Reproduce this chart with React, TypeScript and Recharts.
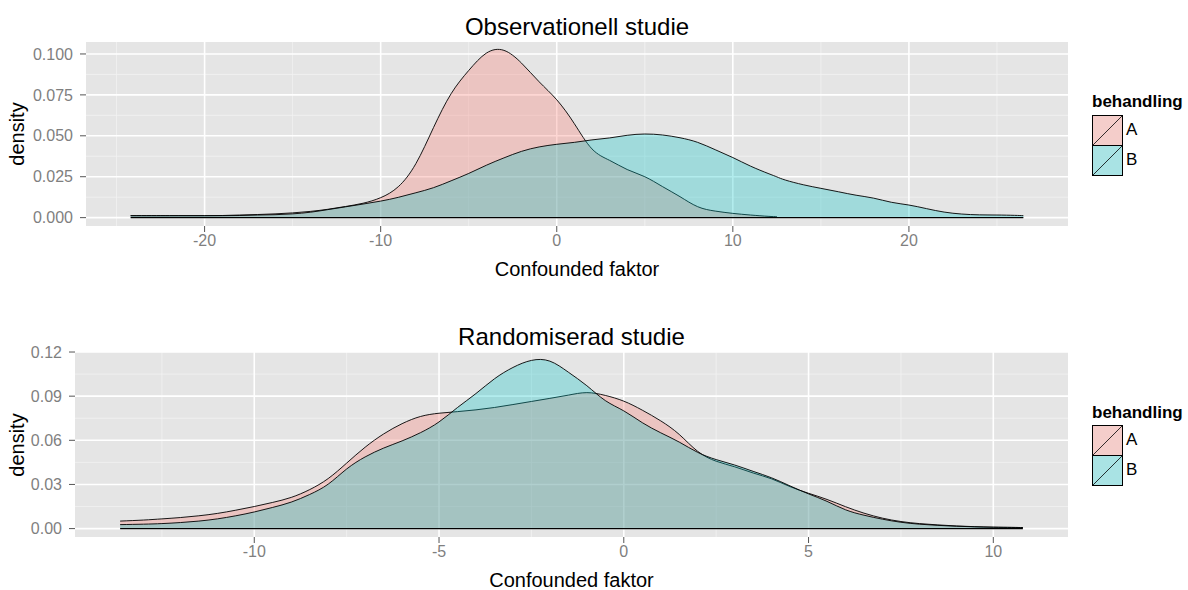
import { ComposedChart, Area, XAxis, YAxis, CartesianGrid, ReferenceLine } from "recharts"

const FONT = '"Liberation Sans", Arial, sans-serif'
const W = 1188
const PANEL_H = 295
const RIGHT = 120

const groups = ["A", "B"]
const fills = ["#F8766D", "#00BFC4"]

// Observationell studie
const obsX = [
  -24.2, -23, -22, -21, -20, -19, -18, -17, -16, -15, -14, -13, -12, -11, -10, -9, -8, -7, -6, -5, -4, -3, -2, -1,
  0, 1, 2, 3, 4, 5, 6, 7, 8, 9, 10, 11, 12, 12.5, 13, 14, 15, 16, 17, 18, 19, 20, 21, 22, 23, 24, 25, 26, 26.5,
]
const obsA = [
  0.0012, 0.0012, 0.0012, 0.0012, 0.0012, 0.0013, 0.0016, 0.0019, 0.0023, 0.0029, 0.0038, 0.0051, 0.0068, 0.0088,
  0.0122, 0.0189, 0.033, 0.055, 0.0757, 0.0899, 0.1005, 0.1022, 0.0944, 0.083, 0.072, 0.0574, 0.042, 0.035, 0.0294,
  0.025, 0.019, 0.0128, 0.0067, 0.004, 0.0026, 0.0016, 0.0008, 0.0006,
  null, null, null, null, null, null, null, null, null, null, null, null, null, null, null,
]
const obsB = [
  0.0012, 0.0012, 0.0012, 0.0012, 0.0012, 0.0012, 0.0013, 0.0016, 0.0018, 0.0023, 0.0033, 0.0049, 0.0066, 0.0083,
  0.0101, 0.0124, 0.0152, 0.0183, 0.0225, 0.027, 0.032, 0.0365, 0.0405, 0.0432, 0.0448, 0.046, 0.0475, 0.0487,
  0.0503, 0.0511, 0.0505, 0.0488, 0.046, 0.0415, 0.0367, 0.0315, 0.027, 0.0249, 0.0229, 0.0201, 0.0179, 0.0158,
  0.0137, 0.0119, 0.0094, 0.0077, 0.0055, 0.0034, 0.0022, 0.0017, 0.0016, 0.0014, 0.0012,
]
const obsXTicks = [-20, -10, 0, 10, 20]
const obsXMinor = [-25, -15, -5, 5, 15, 25]
const obsYTicks = [0, 0.025, 0.05, 0.075, 0.1]
const obsYMinor = [0.0125, 0.0375, 0.0625, 0.0875]

// Randomiserad studie
const randX = [
  -13.63, -13, -12.5, -12, -11.5, -11, -10.5, -10, -9.5, -9, -8.5, -8, -7.5, -7, -6.5, -6, -5.5, -5, -4.5, -4, -3.5,
  -3, -2.5, -2, -1.5, -1, -0.5, 0, 0.5, 1, 1.5, 2, 2.5, 3, 3.5, 4, 4.5, 5, 5.5, 6, 6.5, 7, 7.5, 8, 8.5, 9, 9.5, 10,
  10.5, 10.8,
]
const randA = [
  0.0051, 0.0058, 0.0066, 0.0075, 0.0087, 0.0103, 0.0125, 0.015, 0.0178, 0.0212, 0.0265, 0.034, 0.0445, 0.0553, 0.0643,
  0.0713, 0.0762, 0.0784, 0.0795, 0.0807, 0.0823, 0.0843, 0.0864, 0.0885, 0.0907, 0.0924, 0.0905, 0.0866, 0.0805,
  0.0732, 0.064, 0.0525, 0.0458, 0.042, 0.0378, 0.0338, 0.0285, 0.024, 0.0198, 0.0149, 0.0105, 0.0071, 0.0048,
  0.0034, 0.0025, 0.0018, 0.0013, 0.001, 0.0008, 0.0007,
]
const randB = [
  0.0027, 0.003, 0.0034, 0.0041, 0.0051, 0.0066, 0.0087, 0.0113, 0.0144, 0.018, 0.0232, 0.0302, 0.0405, 0.0487,
  0.0547, 0.0596, 0.0652, 0.0725, 0.0823, 0.0918, 0.1018, 0.1095, 0.1143, 0.1138, 0.1063, 0.0971, 0.087, 0.08, 0.072,
  0.0651, 0.0588, 0.0518, 0.0469, 0.0432, 0.0389, 0.0345, 0.029, 0.0236, 0.0185, 0.0128, 0.0091, 0.0064, 0.0043,
  0.003, 0.0022, 0.0016, 0.0012, 0.0009, 0.0008, 0.0007,
]
const randXTicks = [-10, -5, 0, 5, 10]
const randXMinor = [-12.5, -7.5, -2.5, 2.5, 7.5]
const randYTicks = [0, 0.03, 0.06, 0.09, 0.12]
const randYMinor = [0.015, 0.045, 0.075, 0.105]

const expand = (lo: number, hi: number): [number, number] => {
  const d = (hi - lo) * 0.05
  return [lo - d, hi + d]
}

type PanelProps = {
  title: string
  xs: number[]
  a: (number | null)[]
  b: number[]
  xTicks: number[]
  xMinor: number[]
  yTicks: number[]
  yMinor: number[]
  digits: number
  yAxisWidth: number
  marginTop: number
  xAxisHeight: number
}

function Panel({ title, xs, a, b, xTicks, xMinor, yTicks, yMinor, digits, yAxisWidth, marginTop, xAxisHeight }: PanelProps) {
  const data = xs.map((x, i) => ({ x, A: a[i], B: b[i] }))
  const xDomain = expand(xs[0], xs[xs.length - 1])
  const yMax = Math.max(...(a.filter((v) => v != null) as number[]), ...b)
  const yDomain = expand(0, yMax)
  const plotBottom = PANEL_H - xAxisHeight
  const plotMid = (marginTop + plotBottom) / 2
  const cx = (yAxisWidth + W - RIGHT) / 2
  const legendTitleY = plotMid - 32
  const keysTop = legendTitleY + 12.6

  const tickStyle = { fill: "#7F7F7F", fontSize: 16, fontFamily: FONT }

  return (
    <div style={{ position: "relative", width: W, height: PANEL_H }}>
      <ComposedChart width={W} height={PANEL_H} data={data} margin={{ top: marginTop, right: RIGHT, bottom: 0, left: 0 }}>
        <CartesianGrid fill="#E5E5E5" fillOpacity={1} stroke="#F2F2F2" strokeWidth={0.8} horizontalValues={yMinor} verticalValues={xMinor} />
        <CartesianGrid stroke="#FFFFFF" strokeWidth={1.6} horizontalValues={yTicks} verticalValues={xTicks} />
        <XAxis
          type="number"
          dataKey="x"
          domain={xDomain}
          ticks={xTicks}
          interval={0}
          axisLine={false}
          tickLine={{ stroke: "#555555" }}
          tickSize={6}
          tickMargin={3}
          tick={tickStyle}
          height={xAxisHeight}
        />
        <YAxis
          type="number"
          domain={yDomain}
          ticks={yTicks}
          interval={0}
          axisLine={false}
          tickLine={{ stroke: "#555555" }}
          tickSize={6}
          tickMargin={7}
          tick={tickStyle}
          width={yAxisWidth}
          tickFormatter={(v: number) => v.toFixed(digits)}
        />
        {groups.map((g, i) => (
          <Area
            key={g}
            type="natural"
            dataKey={g}
            baseValue={0}
            fill={fills[i]}
            fillOpacity={0.3}
            stroke="#000000"
            strokeWidth={0.9}
            dot={false}
            activeDot={false}
            isAnimationActive={false}
          />
        ))}
        <ReferenceLine
          segment={[
            { x: xs[0], y: 0 },
            { x: xs[xs.length - 1], y: 0 },
          ]}
          stroke="#000000"
          strokeWidth={1.3}
        />
      </ComposedChart>

      <div style={{ position: "absolute", left: cx, top: marginTop - 15.5, transform: "translate(-50%, -50%)", fontSize: 24, whiteSpace: "nowrap", color: "#000" }}>
        {title}
      </div>
      <div style={{ position: "absolute", left: cx, top: plotBottom + 43, transform: "translate(-50%, -50%)", fontSize: 20, whiteSpace: "nowrap", color: "#000" }}>
        Confounded faktor
      </div>
      <div style={{ position: "absolute", left: 17, top: plotMid, transform: "translate(-50%, -50%) rotate(-90deg)", fontSize: 20, whiteSpace: "nowrap", color: "#000" }}>
        density
      </div>

      <div style={{ position: "absolute", left: 1092, top: legendTitleY, transform: "translateY(-50%)", fontSize: 17, fontWeight: "bold", whiteSpace: "nowrap", color: "#000" }}>
        behandling
      </div>
      <svg width={34} height={64} style={{ position: "absolute", left: 1092, top: keysTop }}>
        {groups.map((g, i) => (
          <g key={g}>
            <rect x={0.5} y={0.5 + i * 30} width={30} height={30} fill="#F2F2F2" />
            <rect x={0.5} y={0.5 + i * 30} width={30} height={30} fill={fills[i]} fillOpacity={0.3} stroke="#000" strokeWidth={1} />
            <line x1={0.5} y1={30.5 + i * 30} x2={30.5} y2={0.5 + i * 30} stroke="#000" strokeWidth={0.8} />
          </g>
        ))}
      </svg>
      {groups.map((g, i) => (
        <div key={g} style={{ position: "absolute", left: 1126, top: keysTop + 15 + i * 30, transform: "translateY(-50%)", fontSize: 17, color: "#000" }}>
          {g}
        </div>
      ))}
    </div>
  )
}

export default function App() {
  return (
    <div style={{ position: "absolute", left: 0, top: 0, width: W, height: 590, background: "#FFFFFF", fontFamily: FONT }}>
      <Panel
        title="Observationell studie"
        xs={obsX}
        a={obsA}
        b={obsB}
        xTicks={obsXTicks}
        xMinor={obsXMinor}
        yTicks={obsYTicks}
        yMinor={obsYMinor}
        digits={3}
        yAxisWidth={86}
        marginTop={42}
        xAxisHeight={69}
      />
      <Panel
        title="Randomiserad studie"
        xs={randX}
        a={randA}
        b={randB}
        xTicks={randXTicks}
        xMinor={randXMinor}
        yTicks={randYTicks}
        yMinor={randYMinor}
        digits={2}
        yAxisWidth={75}
        marginTop={57}
        xAxisHeight={53}
      />
    </div>
  )
}
